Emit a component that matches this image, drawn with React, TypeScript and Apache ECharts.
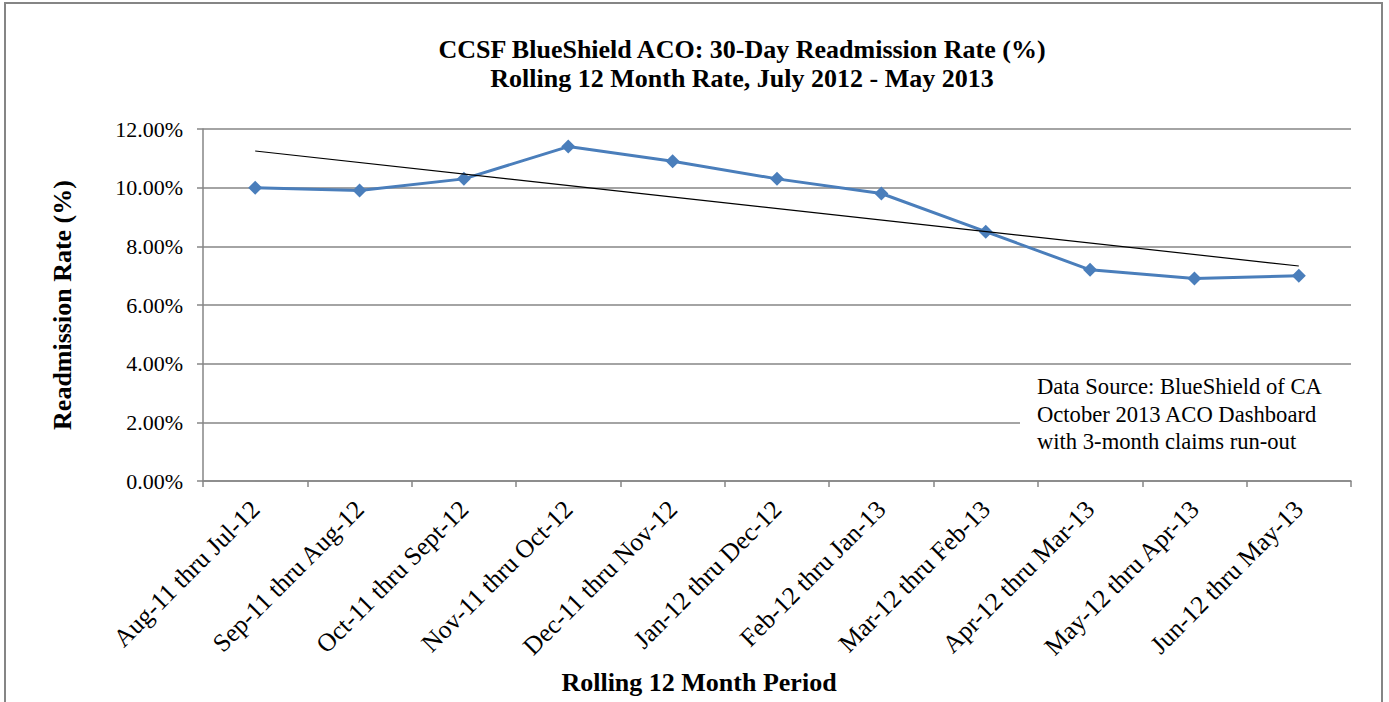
import React, { useEffect, useRef } from "react";
import * as echarts from "echarts";

const categories = [
  "Aug-11 thru Jul-12",
  "Sep-11 thru Aug-12",
  "Oct-11 thru Sept-12",
  "Nov-11 thru Oct-12",
  "Dec-11 thru Nov-12",
  "Jan-12 thru Dec-12",
  "Feb-12 thru Jan-13",
  "Mar-12 thru Feb-13",
  "Apr-12 thru Mar-13",
  "May-12 thru Apr-13",
  "Jun-12 thru May-13",
];
const readmissionRate = [10.0, 9.9, 10.3, 11.4, 10.9, 10.3, 9.8, 8.5, 7.2, 6.9, 7.0];
// linear trend endpoints (first and last category)
const trendStart = 11.25;
const trendEnd = 7.33;
const titleLines = [
  "CCSF BlueShield ACO: 30-Day Readmission Rate (%)",
  "Rolling 12 Month Rate, July 2012 - May 2013",
];
const xAxisTitle = "Rolling 12 Month Period";
const yAxisTitle = "Readmission Rate (%)";
const sourceLines = [
  "Data Source: BlueShield of CA",
  "October 2013 ACO Dashboard",
  "with 3-month claims run-out",
];

const SERIF = "'Liberation Serif', 'Times New Roman', serif";

export default function App() {
  const ref = useRef<HTMLDivElement>(null);
  useEffect(() => {
    document.body.style.margin = "0";
    const chart = echarts.init(ref.current!, null, { renderer: "svg" });
    chart.setOption({
      animation: false,
      backgroundColor: "#ffffff",
      textStyle: { fontFamily: SERIF },
      title: {
        text: titleLines.join("\n"),
        left: 737,
        textAlign: "center",
        top: 30,
        textStyle: {
          fontFamily: SERIF,
          fontSize: 26,
          fontWeight: "bold",
          color: "#000",
          lineHeight: 29,
        },
      },
      grid: { left: 203, right: 38, top: 129, bottom: 221, containLabel: false },
      xAxis: {
        type: "category",
        data: categories,
        boundaryGap: true,
        axisLine: { lineStyle: { color: "#868686", width: 1.5 } },
        axisTick: { show: true, length: 6, lineStyle: { color: "#868686", width: 1.5 } },
        axisLabel: {
          rotate: 45,
          interval: 0,
          margin: 24,
          fontFamily: SERIF,
          fontSize: 25.5,
          color: "#000",
        },
      },
      yAxis: {
        type: "value",
        min: 0,
        max: 12,
        interval: 2,
        name: yAxisTitle,
        nameLocation: "middle",
        nameGap: 128,
        nameRotate: 90,
        nameTextStyle: { fontFamily: SERIF, fontSize: 26, fontWeight: "bold", color: "#000" },
        axisLine: { show: true, lineStyle: { color: "#868686", width: 1.5 } },
        axisTick: { show: true, length: 6, lineStyle: { color: "#868686", width: 1.5 } },
        splitLine: { lineStyle: { color: "#868686", width: 1.5 } },
        axisLabel: {
          margin: 20,
          fontFamily: SERIF,
          fontSize: 22,
          color: "#000",
          formatter: (v: number) => v.toFixed(2) + "%",
        },
      },
      series: [
        {
          type: "line",
          data: readmissionRate,
          lineStyle: { color: "#4A7EBB", width: 3 },
          itemStyle: { color: "#4A7EBB" },
          symbol: "diamond",
          symbolSize: 14,
          z: 3,
        },
        {
          type: "line",
          data: [
            [0, trendStart],
            [categories.length - 1, trendEnd],
          ],
          lineStyle: { color: "#000", width: 1.2 },
          symbol: "none",
          z: 4,
        },
      ],
      graphic: [
        {
          type: "rect",
          shape: { x: 5, y: 3, width: 1377, height: 760 },
          style: { fill: "none", stroke: "#858585", lineWidth: 2 },
          z: 100,
        },
        {
          type: "text",
          x: 699,
          y: 682,
          style: {
            text: xAxisTitle,
            font: `bold 26px ${SERIF}`,
            fill: "#000",
            textAlign: "center",
            textVerticalAlign: "middle",
          },
          z: 51,
        },
        {
          type: "rect",
          shape: { x: 1020, y: 368, width: 331, height: 104 },
          style: { fill: "#ffffff" },
          z: 50,
        },
        {
          type: "text",
          x: 1037,
          y: 373,
          style: {
            text: sourceLines.join("\n"),
            font: `22.6px ${SERIF}`,
            fill: "#000",
            lineHeight: 27.5,
          },
          z: 51,
        },
      ],
    });
    return () => chart.dispose();
  }, []);
  return <div ref={ref} style={{ width: 1389, height: 702 }} />;
}
